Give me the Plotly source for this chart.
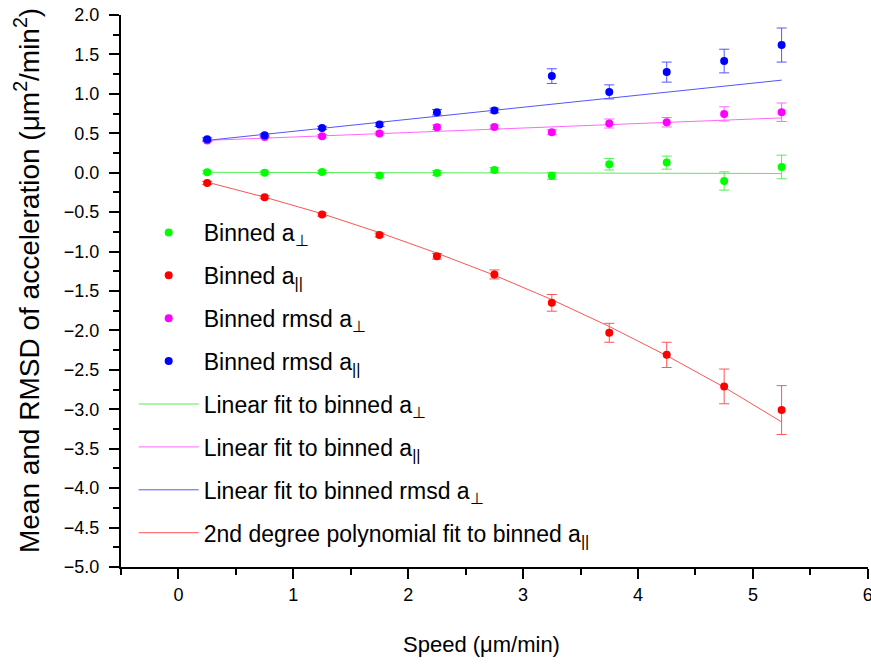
import plotly.graph_objects as go

# ---- data ----
speed = [0.25, 0.75, 1.25, 1.75, 2.25, 2.75, 3.25, 3.75, 4.25, 4.75, 5.25]

a_perp = [0.005, 0.0, 0.01, -0.035, -0.003, 0.034, -0.04, 0.107, 0.128, -0.105, 0.073]
a_perp_err = [0.02, 0.02, 0.02, 0.025, 0.03, 0.03, 0.045, 0.072, 0.083, 0.116, 0.15]

a_par = [-0.13, -0.31, -0.53, -0.79, -1.06, -1.29, -1.65, -2.03, -2.31, -2.71, -3.01]
a_par_err = [0.02, 0.02, 0.02, 0.025, 0.035, 0.057, 0.106, 0.12, 0.16, 0.22, 0.31]

rmsd_perp = [0.41, 0.454, 0.463, 0.497, 0.577, 0.581, 0.513, 0.624, 0.640, 0.746, 0.767]
rmsd_perp_err = [0.015, 0.015, 0.02, 0.02, 0.03, 0.023, 0.03, 0.057, 0.06, 0.09, 0.117]

rmsd_par = [0.424, 0.475, 0.568, 0.611, 0.767, 0.789, 1.225, 1.025, 1.276, 1.416, 1.619]
rmsd_par_err = [0.02, 0.02, 0.02, 0.025, 0.035, 0.03, 0.093, 0.089, 0.127, 0.15, 0.216]

fit_x = [0.25, 5.25]
fit_green = [0.005, -0.01]
fit_magenta = [0.41, 0.695]
fit_blue = [0.41, 1.174]

poly_red = [-0.12, -0.31, -0.52, -0.76, -1.02, -1.30, -1.61, -1.95, -2.32, -2.72, -3.16]

x_title = "Speed (μm/min)"
y_title = "Mean and RMSD of acceleration (μm<sup>2</sup>/min<sup>2</sup>)"

PERP = "<sub>⊥</sub>"
PAR = "<sub>||</sub>"

FONT = "Arial, 'Liberation Sans', sans-serif"

fig = go.Figure()

def pts(y, err, color, ecolor, name, rank):
    fig.add_trace(go.Scatter(
        x=speed, y=y, mode="markers", name=name, legendgroup=f"g{rank}",
        legendrank=rank,
        marker=dict(color=color, size=8, line=dict(width=0)),
        error_y=dict(type="data", array=err, visible=True, color=ecolor,
                     thickness=1, width=5),
    ))

def fit(x, y, color, name, rank):
    fig.add_trace(go.Scatter(
        x=x, y=y, mode="lines", name=name, legendgroup=f"g{rank}",
        legendrank=rank,
        line=dict(color=color, width=1),
    ))

# fit lines drawn first (under markers)
fit(fit_x, fit_green, "#55ee55", "Linear fit to binned a" + PERP, 5)
fit(fit_x, fit_magenta, "#ff66ff", "Linear fit to binned a" + PAR, 6)
fit(fit_x, fit_blue, "#5555ff", "Linear fit to binned rmsd a" + PERP, 7)
fit(speed, poly_red, "#ff5555", "2nd degree polynomial fit to binned a" + PAR, 8)

pts(a_perp, a_perp_err, "#00ff00", "#55ee55", "Binned a" + PERP, 1)
pts(a_par, a_par_err, "#ff0000", "#ff5555", "Binned a" + PAR, 2)
pts(rmsd_perp, rmsd_perp_err, "#ff00ff", "#ff66ff", "Binned rmsd a" + PERP, 3)
pts(rmsd_par, rmsd_par_err, "#0000ff", "#5555ff", "Binned rmsd a" + PAR, 4)

fig.update_layout(
    width=871, height=664,
    margin=dict(l=121, r=3, t=15, b=97, autoexpand=False),
    paper_bgcolor="white", plot_bgcolor="white",
    font=dict(family=FONT, color="black"),
    showlegend=True,
    legend=dict(
        x=0.017, y=0.645, xanchor="left", yanchor="top",
        bgcolor="rgba(0,0,0,0)", borderwidth=0,
        font=dict(family=FONT, size=23, color="black"),
        itemwidth=60, traceorder="grouped", tracegroupgap=10,
    ),
    xaxis=dict(
        range=[-0.5, 6.002], tickmode="linear", tick0=0, dtick=1,
        showline=True, linecolor="black", linewidth=2,
        ticks="outside", ticklen=10, tickwidth=1.5, tickcolor="black",
        minor=dict(ticks="outside", ticklen=6, tickwidth=1.5, tickcolor="black", dtick=0.5, tick0=0),
        showgrid=False, zeroline=False, automargin=False,
        tickfont=dict(family=FONT, size=18),
        ticklabeloverflow="allow",
    ),
    yaxis=dict(
        range=[-5, 2], tickmode="linear", tick0=0, dtick=0.5, tickformat=".1f",
        showline=True, linecolor="black", linewidth=2,
        ticks="outside", ticklen=10, tickwidth=1.5, tickcolor="black",
        minor=dict(ticks="outside", ticklen=6, tickwidth=1.5, tickcolor="black", dtick=0.25, tick0=0),
        showgrid=False, zeroline=False, automargin=False,
        tickfont=dict(family=FONT, size=18),
        ticklabelstandoff=6,
    ),
    annotations=[
        dict(text=x_title, xref="paper", yref="paper", x=0.482, y=-0.1413,
             xanchor="center", yanchor="middle", showarrow=False,
             font=dict(family=FONT, size=22, color="black")),
        dict(text=y_title, xref="paper", yref="paper", x=-0.1258, y=0.518,
             xanchor="center", yanchor="middle", showarrow=False, textangle=-90,
             font=dict(family=FONT, size=28, color="black")),
    ],
)

fig.write_html("out.html")
